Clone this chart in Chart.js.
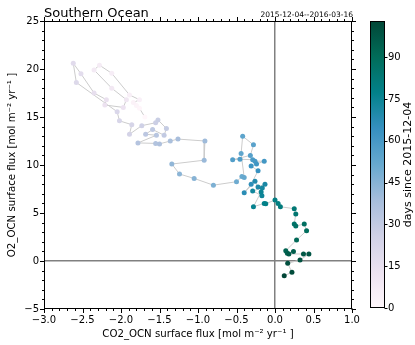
<!DOCTYPE html>
<html><head><meta charset="utf-8">
<script src="https://cdn.jsdelivr.net/npm/chart.js@4.4.1/dist/chart.umd.min.js"></script>
<style>
html,body{margin:0;padding:0;background:#fff;}
#wrap{position:relative;width:415px;height:345px;}
canvas{position:absolute;left:0;top:0;}
</style>
</head><body>
<div id="wrap"><canvas id="main" width="415" height="345"></canvas><canvas id="cb" width="415" height="345"></canvas></div>
<script>
// ---- data ----
const days = [0,1,2,3,4,5,6,7,8,9,10,12,13,14,15,17,18,20,21,22,23,24,26,27,28,29,30,31,32,33,34,35,36,37,38,40,41,43,44,45,47,50,51,52,53,54,55,56,57,58,59,60,61,62,63,64,66,67,69,70,71,72,73,74,75,76,77,78,79,80,81,83,84,86,87,88,89,91,93,94,95,96,97,98,99,100,101,103];
const co2 = [-1.69,-1.76,-1.80,-1.84,-1.76,-1.89,-2.12,-2.28,-2.35,-2.12,-1.93,-1.97,-2.21,-2.19,-2.35,-2.52,-2.62,-2.58,-2.05,-2.02,-1.86,-1.89,-1.73,-1.55,-1.52,-1.41,-1.44,-1.59,-1.68,-1.54,-1.78,-1.55,-1.50,-1.36,-1.26,-0.91,-0.92,-1.34,-1.24,-1.05,-0.80,-0.50,-0.43,-0.40,-0.44,-0.42,-0.28,-0.32,-0.55,-0.455,-0.29,-0.26,-0.14,-0.24,-0.31,-0.22,-0.31,-0.40,-0.26,-0.22,-0.13,-0.165,-0.29,-0.17,-0.18,-0.28,-0.14,-0.12,0.0,0.04,0.07,0.25,0.27,0.25,0.27,0.38,0.41,0.28,0.14,0.16,0.24,0.18,0.37,0.44,0.325,0.165,0.22,0.12];
const o2 = [15.0,15.9,16.2,16.5,16.8,17.3,19.55,20.4,19.9,18.0,16.8,16.0,16.25,16.8,17.5,19.5,20.6,18.6,15.55,14.6,14.2,13.2,14.1,14.4,14.7,13.8,13.1,13.7,13.2,13.1,12.3,12.25,12.2,12.5,12.7,12.5,10.5,10.1,9.06,8.6,7.9,8.26,8.8,8.7,11.2,13.0,12.1,11.0,10.55,10.6,10.55,10.4,10.4,10.1,9.9,9.4,8.0,7.1,8.3,7.7,8.0,7.6,7.3,6.8,7.2,5.65,6.0,5.97,6.35,6.0,5.65,5.45,4.9,3.85,3.65,3.85,3.16,2.19,1.07,0.8,1.0,0.73,0.73,0.73,0.1,-0.24,-1.18,-1.53];
const xTicks = [-3.0,-2.5,-2.0,-1.5,-1.0,-0.5,0.0,0.5,1.0];
const xTickLabels = ['\u22123.0','\u22122.5','\u22122.0','\u22121.5','\u22121.0','\u22120.5','0.0','0.5','1.0'];
const yTicks = [-5,0,5,10,15,20,25];
const yTickLabels = ['\u22125','0','5','10','15','20','25'];
const cbTicks = [0,15,30,45,60,75,90];
const dayMax = 103;

// ---- styling ----
const FONT = '"DejaVu Sans", sans-serif';
const PBG = [[255,247,251],[236,226,240],[208,209,230],[166,189,219],[103,169,207],[54,144,192],[2,129,138],[1,108,89],[1,70,54]];
function cmap(t){
  t = Math.max(0, Math.min(1, t));
  const s = t*(PBG.length-1);
  const i = Math.min(Math.floor(s), PBG.length-2);
  const f = s - i;
  const c = PBG[i].map((v,k)=>Math.round(v + (PBG[i+1][k]-v)*f));
  return 'rgb(' + c.join(',') + ')';
}

const mainPlugin = {
  id: 'mainDecor',
  afterDraw(chart){
    const {ctx, chartArea:a, scales:{x, y}} = chart;
    ctx.save();
    ctx.strokeStyle = '#000';
    ctx.lineWidth = 1;
    const L = Math.round(a.left)+0.5, R = Math.round(a.right)-0.5, T = Math.round(a.top)+0.5, B = Math.round(a.bottom)-0.5;
    ctx.strokeRect(L, T, R-L, B-T);
    ctx.beginPath();
    for (let i = 0; i <= 40; i++) {
      const v = -3 + i*0.1;
      const px = Math.round(x.getPixelForValue(v)) + 0.5;
      const len = (i % 5 === 0) ? 4.5 : 2.5;
      ctx.moveTo(px, B); ctx.lineTo(px, B + len);
      ctx.moveTo(px, T); ctx.lineTo(px, T - len);
    }
    for (let v = -5; v <= 25; v++) {
      const py = Math.round(y.getPixelForValue(v)) + 0.5;
      const len = (v % 5 === 0) ? 4.5 : 2.5;
      ctx.moveTo(L, py); ctx.lineTo(L - len, py);
      ctx.moveTo(R, py); ctx.lineTo(R + len, py);
    }
    ctx.stroke();
    ctx.fillStyle = '#000';
    ctx.textBaseline = 'alphabetic';
    ctx.textAlign = 'left';
    ctx.font = '13px ' + FONT;
    ctx.fillText('Southern Ocean', 44, 17);
    ctx.textAlign = 'right';
    ctx.font = '7.5px ' + FONT;
    ctx.fillText('2015-12-04--2016-03-16', 353, 17);
    ctx.restore();
  }
};

const zeroColor = (c) => (c.tick && Math.abs(c.tick.value) < 1e-9) ? '#808080' : 'rgba(0,0,0,0)';

new Chart(document.getElementById('main'), {
  type: 'scatter',
  data: {
    datasets: [{
      data: co2.map((v,i)=>({x:v, y:o2[i]})),
      showLine: true,
      borderColor: '#cccccc',
      borderWidth: 1,
      tension: 0,
      pointRadius: 2.5,
      pointBorderWidth: 0,
      pointBackgroundColor: days.map(d=>cmap(d/dayMax)),
      pointHoverRadius: 2.5
    }]
  },
  options: {
    responsive: false,
    animation: false,
    devicePixelRatio: 1,
    layout: { padding: { top: 21, right: 63, left: 0, bottom: 0 } },
    plugins: { legend: {display:false}, tooltip: {enabled:false} },
    scales: {
      x: {
        type: 'linear', min: -3, max: 1,
        afterBuildTicks: s => { s.ticks = xTicks.map(v=>({value:v})); },
        afterFit: s => { s.height = 36; },
        ticks: { callback: (v,i) => xTickLabels[i], color:'#000', font:{family:FONT, size:10}, padding: 5, maxRotation:0, autoSkip:false },
        grid: { color: zeroColor, lineWidth: 1.5, drawTicks: false },
        border: { display: false },
        title: { display: true, text: 'CO2_OCN surface flux [mol m\u207B\u00B2 yr\u207B\u00B9 ]', color:'#000', font:{family:FONT, size:10.2}, padding:{top:0, bottom:5} }
      },
      y: {
        type: 'linear', min: -5, max: 25,
        afterBuildTicks: s => { s.ticks = yTicks.map(v=>({value:v})); },
        afterFit: s => { s.width = 44; },
        ticks: { callback: (v,i) => yTickLabels[i], color:'#000', font:{family:FONT, size:10}, padding: 5, autoSkip:false },
        grid: { color: zeroColor, lineWidth: 1.5, drawTicks: false },
        border: { display: false },
        title: { display: true, text: 'O2_OCN surface flux [mol m\u207B\u00B2 yr\u207B\u00B9 ]', color:'#000', font:{family:FONT, size:10.2}, padding:{top:6, bottom:0} }
      }
    }
  },
  plugins: [mainPlugin]
});

// ---- colorbar ----
const cbPlugin = {
  id: 'cbDecor',
  afterDraw(chart){
    const {ctx, chartArea:a, scales:{y}} = chart;
    ctx.save();
    ctx.strokeStyle = '#000';
    ctx.lineWidth = 1;
    const L = Math.round(a.left)+0.5, R = Math.round(a.right)-0.5, T = Math.round(a.top)+0.5, B = Math.round(a.bottom)-0.5;
    ctx.strokeRect(L, T, R-L, B-T);
    ctx.beginPath();
    cbTicks.forEach(v => {
      const py = Math.round(y.getPixelForValue(v)) + 0.5;
      ctx.moveTo(R, py); ctx.lineTo(R + 3, py);
    });
    ctx.stroke();
    ctx.fillStyle = '#000';
    ctx.font = '11px ' + FONT;
    ctx.translate(408, (a.top + a.bottom)/2);
    ctx.rotate(-Math.PI/2);
    ctx.textAlign = 'center';
    ctx.textBaseline = 'middle';
    ctx.fillText('days since 2015-12-04', 0, 0);
    ctx.restore();
  }
};

new Chart(document.getElementById('cb'), {
  type: 'bar',
  data: {
    labels: ['days'],
    datasets: [{
      data: [[0, dayMax]],
      barPercentage: 1,
      categoryPercentage: 1,
      borderWidth: 0,
      backgroundColor: (c) => {
        const ch = c.chart;
        const ys = ch.scales.y;
        if (!ch.chartArea || !ys) return '#888';
        const g = ch.ctx.createLinearGradient(0, ys.getPixelForValue(0), 0, ys.getPixelForValue(dayMax));
        for (let i = 0; i <= 32; i++) g.addColorStop(i/32, cmap(i/32));
        return g;
      }
    }]
  },
  options: {
    responsive: false,
    animation: false,
    devicePixelRatio: 1,
    layout: { padding: { top: 21, left: 370, bottom: 37, right: 0 } },
    plugins: { legend: {display:false}, tooltip: {enabled:false} },
    scales: {
      x: { display: false },
      y: {
        position: 'right', min: 0, max: dayMax,
        afterBuildTicks: s => { s.ticks = cbTicks.map(v=>({value:v})); },
        afterFit: s => { s.width = 30; },
        ticks: { color:'#000', font:{family:FONT, size:10}, padding: 3, autoSkip:false },
        grid: { display: false, drawTicks: false },
        border: { display: false }
      }
    }
  },
  plugins: [cbPlugin]
});
</script>
</body></html>
